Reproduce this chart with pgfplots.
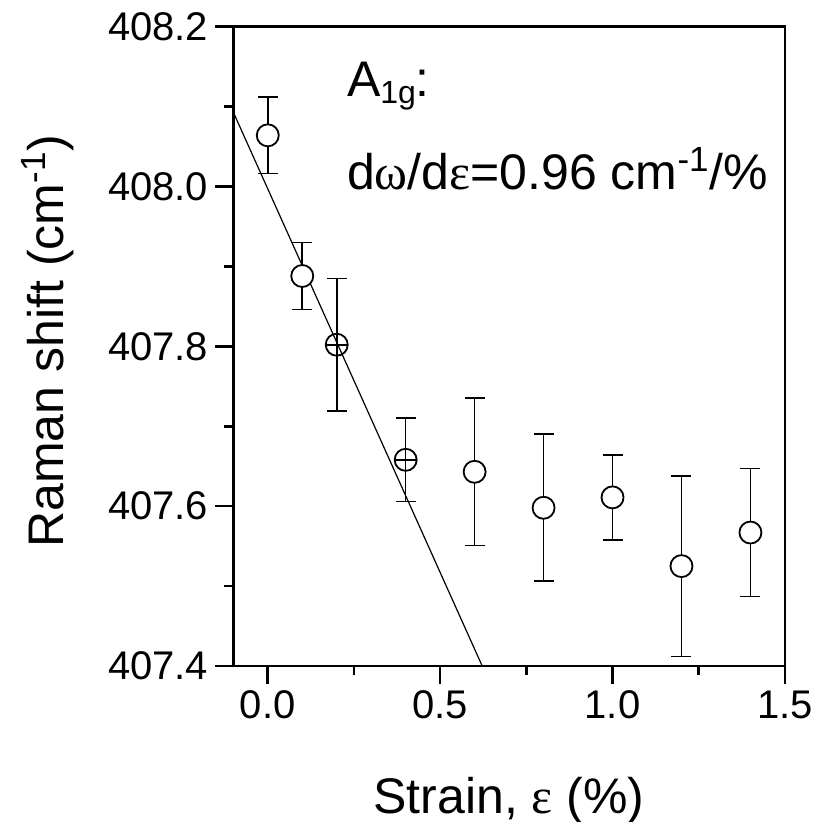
\documentclass[border=0pt]{standalone}
\usepackage{fontspec}
\setmainfont{Liberation Sans}
\newfontfamily\grk{Liberation Serif}
\usepackage{pgfplots}
\pgfplotsset{compat=1.18}
\begin{document}
\begin{tikzpicture}
\begin{axis}[
  scale only axis, width=275.8pt, height=319.7pt,
  xmin=-0.1, xmax=1.5, ymin=407.4, ymax=408.2,
  xtick={0,0.5,1,1.5}, ytick={407.4,407.6,407.8,408.0,408.2},
  minor xtick={0.25,0.75,1.25}, minor ytick={407.5,407.7,407.9,408.1},
  tick align=outside, xtick pos=left, ytick pos=left,
  major tick length=9pt, minor tick length=4.5pt,
  axis line style={line width=1.3pt, black},
  every tick/.style={line width=1.3pt, black},
  ticklabel style={font=\fontsize{20}{24}\selectfont},
  /pgf/number format/.cd, fixed, fixed zerofill, precision=1, assume math mode=true,
  /pgfplots/.cd,
  xlabel={Strain, {\grk ε} (\%)},
  ylabel={Raman shift (cm\textsuperscript{-1})},
  label style={font=\fontsize{25}{30}\selectfont},
  xlabel style={at={(axis description cs:0.5,-0.23)}, anchor=base},
  ylabel style={at={(axis description cs:-0.337,0.508)}, anchor=center},
]
% filled (white) circles with y error bars
\addplot[black, line width=0.7pt, only marks, mark=*, mark size=5.5pt,
  mark options={fill=white, line width=0.9pt},
  error bars/.cd, y dir=both, y explicit,
  error bar style={line width=0.8pt},
  error mark options={rotate=90, mark size=5pt, line width=0.8pt}]
  table[x=x, y=y, y error=e] {
  x    y        e
  0.0  408.064  0.048
  0.1  407.888  0.042
  0.6  407.643  0.092
  0.8  407.598  0.092
  1.0  407.611  0.053
  1.2  407.525  0.113
  1.4  407.567  0.080
};
% open circles with crosshair
\addplot[black, line width=0.7pt, only marks, mark=o, mark size=5.5pt,
  mark options={line width=0.9pt},
  error bars/.cd, y dir=both, y explicit,
  error bar style={line width=0.8pt},
  error mark options={rotate=90, mark size=5pt, line width=0.8pt}]
  table[x=x, y=y, y error=e] {
  x    y        e
  0.2  407.802  0.083
  0.4  407.658  0.052
};
\addplot[black, line width=0.8pt, no marks] coordinates {(0.169,407.802) (0.231,407.802)};
\addplot[black, line width=0.8pt, no marks] coordinates {(0.369,407.658) (0.431,407.658)};
% linear fit
\addplot[black, line width=0.6pt, no marks] coordinates {(-0.1,408.093) (0.622,407.4)};
\node[anchor=base west, font=\fontsize{25}{30}\selectfont] at (rel axis cs:0.1934,0.8905) {A\raisebox{-3.5pt}{\fontsize{16}{19}\selectfont 1g}:};
\node[anchor=base west, font=\fontsize{25}{30}\selectfont] at (rel axis cs:0.1934,0.7446) {d{\grk ω}/d{\grk ε}=0.96 cm\textsuperscript{-1}/\%};
\end{axis}
\pgfresetboundingbox
\path (-116.65pt,-77.5pt) rectangle (294.35pt,333pt);
\end{tikzpicture}
\end{document}
